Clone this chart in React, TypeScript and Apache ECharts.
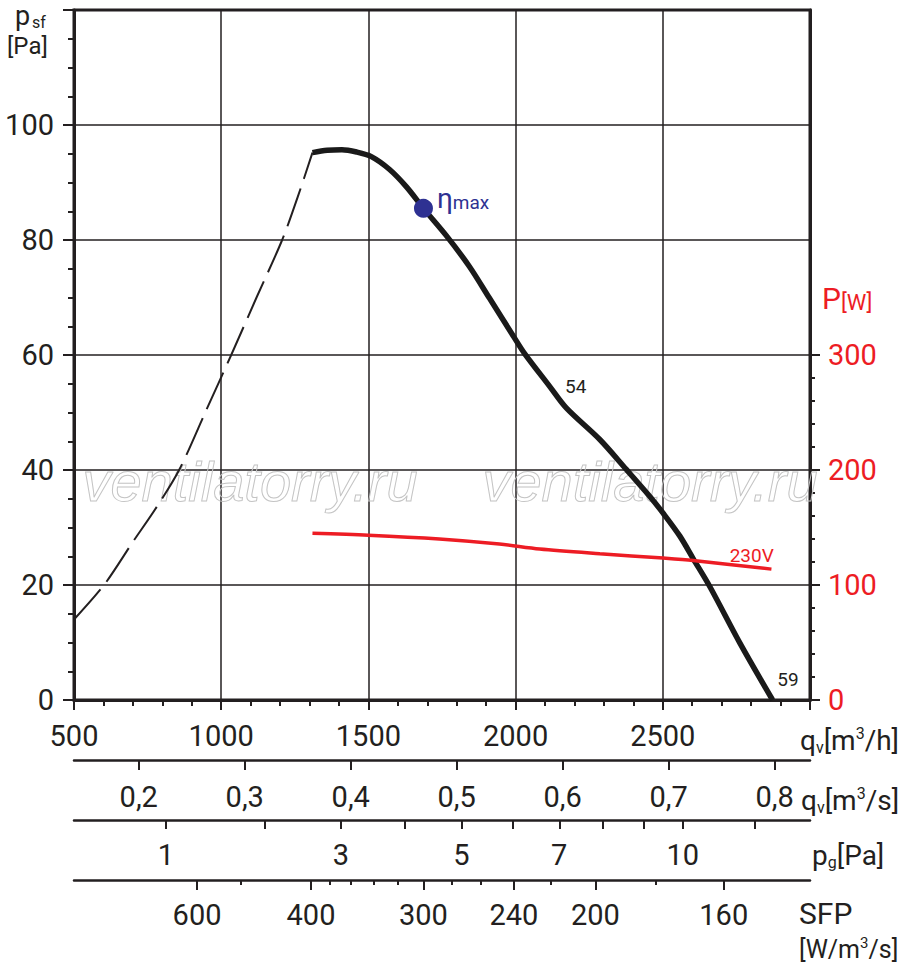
import React, { useEffect, useRef } from "react";
import * as echarts from "echarts";

// ---- data ----
const qvMin = 500;
const qvMax = 3000;

// dashed (unstable) part of pressure curve: [qv m3/h, psf Pa]
const dashedQv = [500, 602, 700, 780, 857, 950, 1034, 1120, 1207, 1260, 1310];
const dashedPsf = [14, 20, 27.5, 33.5, 40, 50.5, 60, 70, 80, 87.5, 95.2];

// main pressure curve
const mainQv = [1310, 1360, 1410, 1460, 1510, 1571, 1630, 1687, 1764, 1843, 1911, 1991, 2030, 2115, 2172, 2286, 2376, 2456, 2501, 2558, 2603, 2660, 2762, 2873];
const mainPsf = [95.2, 95.6, 95.7, 95.3, 94.5, 92.3, 89.2, 85.5, 80.8, 75.4, 69.9, 63.4, 60.3, 54.6, 50.8, 45.3, 40.1, 35.4, 32.5, 28.5, 24.6, 19.7, 9.9, 0];

// power curve (W)
const powerQv = [1310, 1500, 1741, 1945, 2082, 2286, 2501, 2603, 2869];
const powerW = [144.9, 143.3, 140, 135.6, 131.3, 127.2, 123.4, 121.3, 113.8];

// max efficiency point
const etaQv = [1687];
const etaPsf = [85.5];

// curve annotations
const noteTexts = ["54", "59"];
const noteQv = [2204, 2925];
const notePsf = [54.5, 3.5];
const voltText = "230V";
const voltQv = 2802;
const voltW = 125.5;

// secondary scales
const qvM3sTicks = [0.2, 0.3, 0.4, 0.5, 0.6, 0.7, 0.8];
const pgTicks = [1, 2, 3, 4, 5, 6, 7, 8, 9, 10, 12];
const pgLabels = [1, 3, 5, 7, 10];
const pgRefQv = 812; // qv [m3/h] where pg = 1 Pa
const sfpMajor = [600, 400, 300, 240, 200, 160];
const sfpMajorQv = [918, 1305, 1687, 1994, 2271, 2707];
const sfpMinor = [500, 380, 360, 340, 320, 280, 260, 220, 180];
const sfpMinorQv = [1068, 1370, 1441, 1517, 1600, 1783, 1883, 2121, 2476];

const psfTicks = [0, 20, 40, 60, 80, 100];
const powerLabels = [0, 100, 200, 300];
const powerMinor = [20, 40, 60, 80, 120, 140, 160, 180, 220, 240, 260, 280];

const FONT = "Roboto";
const INK = "#231f20";
const RED = "#ed1c24";
const BLUE = "#2e3192";

const zip = (a: number[], b: number[]) => a.map((v, i) => [v, b[i]]);

export default function App() {
  const ref = useRef<HTMLDivElement>(null);
  useEffect(() => {
    if (!ref.current) return;
    const chart = echarts.init(ref.current, null, { renderer: "svg" });

    const tickStyle = { color: INK, width: 2 };
    const labelBase = { fontFamily: FONT, fontSize: 29, color: INK };

    const pgQv = pgTicks.map((p) => pgRefQv * Math.sqrt(p));
    const pgLabelQv = pgLabels.map((p) => pgRefQv * Math.sqrt(p));

    const extraAxis = (offset: number, extra: any) => ({
      type: "value",
      min: qvMin,
      max: qvMax,
      position: "bottom",
      offset,
      splitLine: { show: false },
      axisLine: { show: true, onZero: false, lineStyle: { color: INK, width: 2.5 } },
      ...extra,
    });

    const nameRich = {
      a: { fontFamily: FONT, fontSize: 28, fill: INK, lineHeight: 30 },
      s: { fontFamily: FONT, fontSize: 16, fill: INK, verticalAlign: "bottom", lineHeight: 12 },
      p: { fontFamily: FONT, fontSize: 16, fill: INK, verticalAlign: "top", lineHeight: 22 },
    };

    const option: any = {
      animation: false,
      textStyle: { fontFamily: FONT },
      grid: {
        left: 74,
        right: 90,
        top: 10,
        bottom: 267,
        show: true,
        borderColor: INK,
        borderWidth: 3,
        backgroundColor: "transparent",
      },
      xAxis: [
        {
          type: "value",
          min: qvMin,
          max: qvMax,
          interval: 500,
          position: "bottom",
          axisLine: { show: true, onZero: false, lineStyle: { color: INK, width: 3 } },
          axisTick: { show: true, length: 10, lineStyle: tickStyle },
          minorTick: { show: true, splitNumber: 5, length: 6, lineStyle: tickStyle },
          splitLine: { show: true, lineStyle: { color: INK, width: 1.5 } },
          axisLabel: { ...labelBase, margin: 21, showMaxLabel: false, formatter: (v: number) => String(v) },
        },
        extraAxis(60, {
          axisTick: { show: true, length: 10, customValues: qvM3sTicks.map((v) => v * 3600), lineStyle: tickStyle },
          axisLabel: {
            ...labelBase,
            margin: 22,
            customValues: qvM3sTicks.map((v) => v * 3600),
            formatter: (v: number) => (v / 3600).toFixed(1).replace(".", ","),
          },
        }),
        extraAxis(120, {
          axisTick: { show: true, length: 9, customValues: pgQv, lineStyle: tickStyle },
          axisLabel: {
            ...labelBase,
            margin: 20,
            customValues: pgLabelQv,
            formatter: (v: number) => String(Math.round((v / pgRefQv) ** 2)),
          },
        }),
        extraAxis(180, {
          axisTick: { show: true, length: 10, customValues: sfpMajorQv, lineStyle: tickStyle },
          axisLabel: {
            ...labelBase,
            margin: 20,
            customValues: sfpMajorQv,
            formatter: (v: number) => {
              let best = 0;
              sfpMajorQv.forEach((q, i) => {
                if (Math.abs(q - v) < Math.abs(sfpMajorQv[best] - v)) best = i;
              });
              return String(sfpMajor[best]);
            },
          },
        }),
        {
          type: "value",
          min: qvMin,
          max: qvMax,
          position: "bottom",
          offset: 180,
          splitLine: { show: false },
          axisLine: { show: false, onZero: false },
          axisTick: { show: true, length: 5, customValues: sfpMinorQv, lineStyle: tickStyle },
          axisLabel: { show: false },
        },
      ],
      yAxis: [
        {
          type: "value",
          min: 0,
          max: 120,
          interval: 20,
          position: "left",
          axisLine: { show: true, onZero: false, lineStyle: { color: INK, width: 3 } },
          axisTick: { show: true, length: 11, lineStyle: tickStyle },
          minorTick: { show: true, splitNumber: 4, length: 6, lineStyle: tickStyle },
          splitLine: { show: true, lineStyle: { color: INK, width: 1.5 } },
          axisLabel: { ...labelBase, margin: 20, customValues: psfTicks },
        },
        {
          type: "value",
          min: 0,
          max: 600,
          interval: 100,
          position: "right",
          axisLine: { show: true, onZero: false, lineStyle: { color: INK, width: 3 } },
          axisTick: { show: true, length: 10, customValues: powerLabels, lineStyle: tickStyle },
          splitLine: { show: false },
          axisLabel: { ...labelBase, color: RED, margin: 18, customValues: powerLabels },
        },
        {
          type: "value",
          min: 0,
          max: 600,
          position: "right",
          axisLine: { show: false },
          axisTick: { show: true, length: 5, customValues: powerMinor, lineStyle: tickStyle },
          splitLine: { show: false },
          axisLabel: { show: false },
        },
      ],
      series: [
        {
          type: "line",
          data: zip(dashedQv, dashedPsf),
          symbol: "none",
          smooth: 0.3,
          lineStyle: { color: INK, width: 2, type: [40, 10] },
          z: 5,
        },
        {
          type: "line",
          data: zip(mainQv, mainPsf),
          symbol: "none",
          smooth: 0.3,
          lineStyle: { color: "#1a1a1a", width: 5.5 },
          z: 5,
        },
        {
          type: "line",
          yAxisIndex: 1,
          data: zip(powerQv, powerW),
          symbol: "none",
          smooth: 0.3,
          lineStyle: { color: RED, width: 3.5 },
          z: 6,
        },
        {
          type: "scatter",
          data: zip(etaQv, etaPsf),
          symbolSize: 19,
          itemStyle: { color: BLUE, opacity: 1 },
          z: 7,
          label: {
            show: true,
            position: "right",
            distance: 4,
            offset: [0, -10],
            formatter: "{a|η}{b|max}",
            rich: {
              a: { fontFamily: FONT, fontSize: 28, color: BLUE, verticalAlign: "bottom", lineHeight: 28 },
              b: { fontFamily: FONT, fontSize: 19, color: BLUE, verticalAlign: "bottom", lineHeight: 22 },
            },
          },
        },
        {
          type: "scatter",
          data: noteTexts.map((t, i) => ({ value: [noteQv[i], notePsf[i]], name: t })),
          symbolSize: 0,
          itemStyle: { opacity: 1 },
          z: 8,
          label: {
            show: true,
            position: "inside",
            formatter: (p: any) => p.name,
            fontFamily: FONT,
            fontSize: 19,
            color: INK,
          },
        },
        {
          type: "scatter",
          yAxisIndex: 1,
          data: [{ value: [voltQv, voltW], name: voltText }],
          symbolSize: 0,
          itemStyle: { opacity: 1 },
          z: 8,
          label: {
            show: true,
            position: "inside",
            formatter: (p: any) => p.name,
            fontFamily: FONT,
            fontSize: 19,
            color: RED,
          },
        },
      ],
      graphic: [
        {
          type: "text",
          x: 250,
          y: 481,
          z: 1,
          style: {
            text: "ventilatorry.ru",
            fontFamily: "Liberation Sans",
            fontStyle: "italic",
            fontSize: 56,
            fill: "rgba(0,0,0,0)",
            stroke: "#c4c4c4",
            lineWidth: 1,
            align: "center",
            verticalAlign: "middle",
          },
        },
        {
          type: "text",
          x: 650,
          y: 481,
          z: 1,
          style: {
            text: "ventilatorry.ru",
            fontFamily: "Liberation Sans",
            fontStyle: "italic",
            fontSize: 56,
            fill: "rgba(0,0,0,0)",
            stroke: "#c4c4c4",
            lineWidth: 1,
            align: "center",
            verticalAlign: "middle",
          },
        },
        // p_sf [Pa]
        { type: "text", x: 15, y: 16, style: { text: "p", fontFamily: FONT, fontSize: 27, fill: INK, verticalAlign: "middle" } },
        { type: "text", x: 32, y: 22, style: { text: "sf", fontFamily: FONT, fontSize: 16, fill: INK, verticalAlign: "middle" } },
        { type: "text", x: 7, y: 46, style: { text: "[Pa]", fontFamily: FONT, fontSize: 24, fill: INK, verticalAlign: "middle" } },
        // P[W]
        {
          type: "text",
          x: 822,
          y: 298,
          style: {
            text: "{a|P}{b|[W]}",
            verticalAlign: "middle",
            rich: {
              a: { fontFamily: FONT, fontSize: 30, fill: RED, verticalAlign: "bottom" },
              b: { fontFamily: FONT, fontSize: 22, fill: RED, verticalAlign: "bottom", lineHeight: 26 },
            },
          },
        },
        // q_v [m3/h]
        { type: "text", x: 800, y: 740, style: { text: "{a|q}{s|v}{a|[m}{p|3}{a|/h]}", verticalAlign: "middle", rich: nameRich } },
        // q_v [m3/s]
        { type: "text", x: 801, y: 800, style: { text: "{a|q}{s|v}{a|[m}{p|3}{a|/s]}", verticalAlign: "middle", rich: nameRich } },
        // p_g [Pa]
        { type: "text", x: 812, y: 855, style: { text: "{a|p}{s|g}{a|[Pa]}", verticalAlign: "middle", rich: nameRich } },
        // SFP [W/m3/s]
        { type: "text", x: 799, y: 913, style: { text: "SFP", fontFamily: FONT, fontSize: 30, fill: INK, verticalAlign: "middle" } },
        {
          type: "text",
          x: 799,
          y: 949,
          style: {
            text: "{a|[W/m}{p|3}{a|/s]}",
            verticalAlign: "middle",
            rich: {
              a: { fontFamily: FONT, fontSize: 25, fill: INK, lineHeight: 28 },
              p: { fontFamily: FONT, fontSize: 15, fill: INK, verticalAlign: "top", lineHeight: 20 },
            },
          },
        },
      ],
    };
    chart.setOption(option);
    return () => chart.dispose();
  }, []);
  return (
    <div
      ref={ref}
      style={{ position: "absolute", left: 0, top: 0, width: 900, height: 967, background: "#fff" }}
    />
  );
}
